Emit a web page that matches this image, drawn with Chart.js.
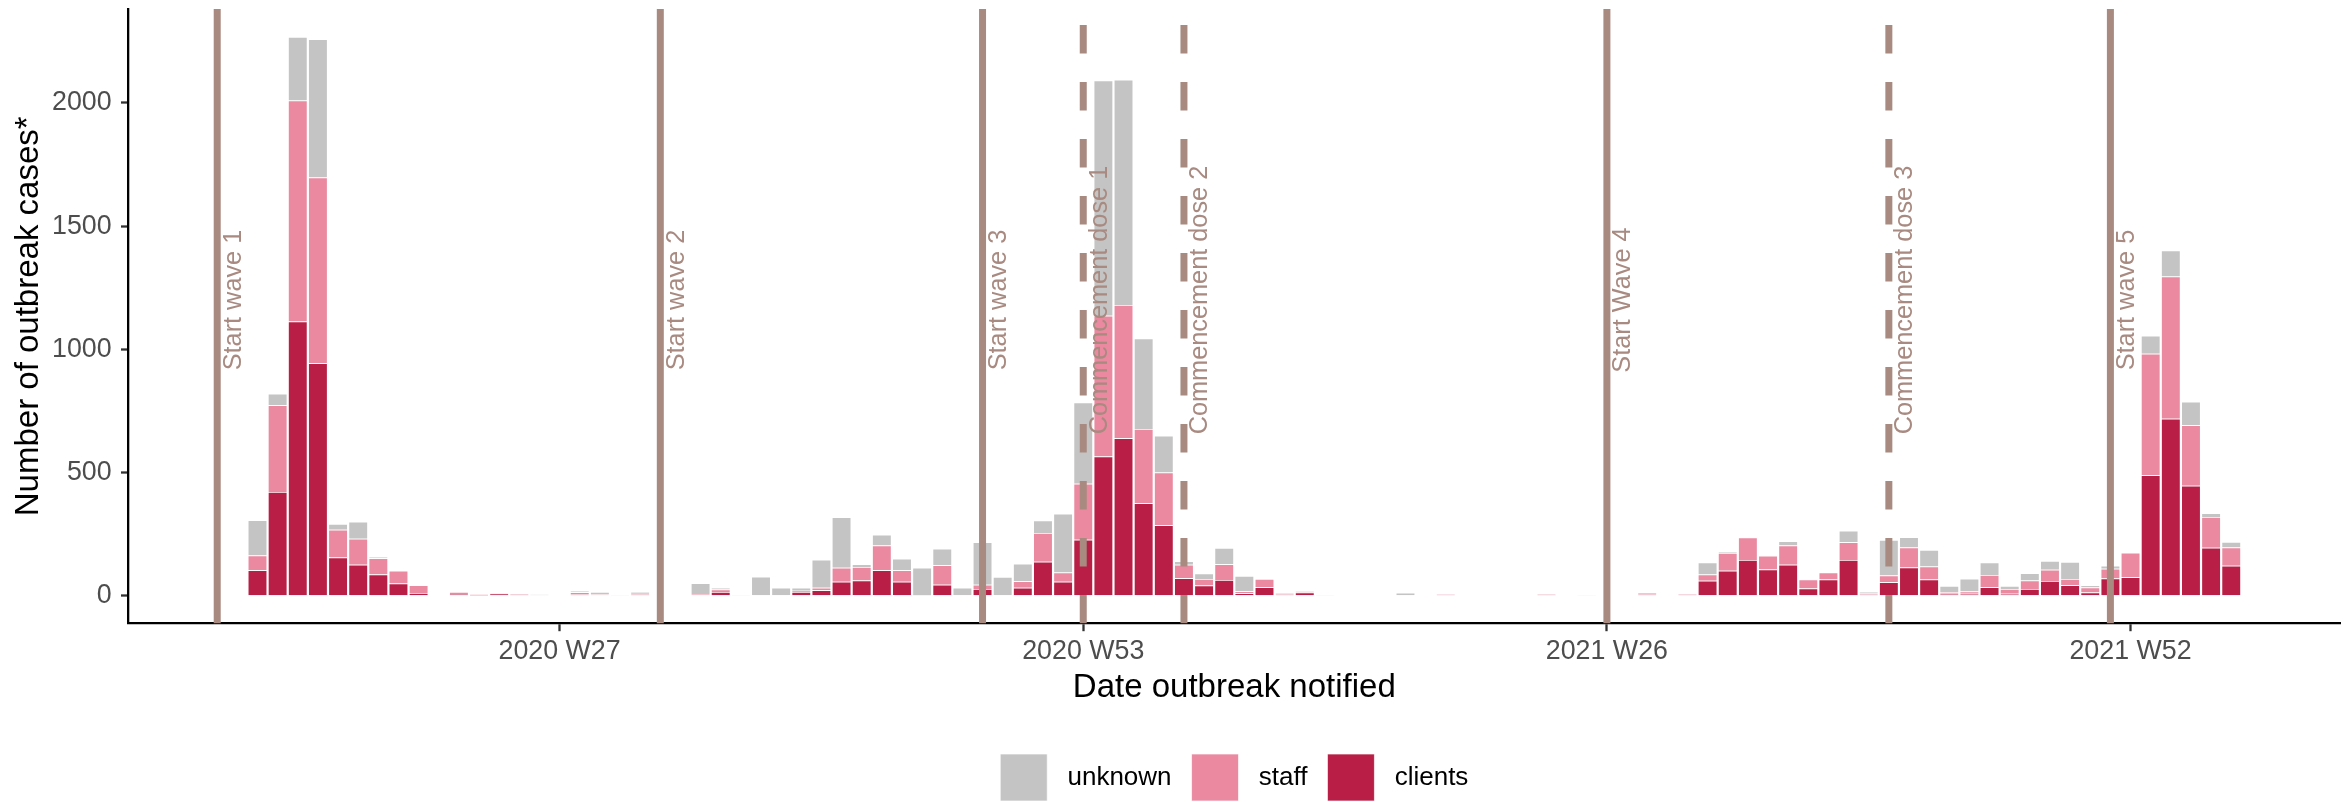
<!DOCTYPE html>
<html>
<head>
<meta charset="utf-8">
<title>Outbreak cases by week notified</title>
<script src="https://cdn.jsdelivr.net/npm/chart.js@4"></script>
<style>
  html, body { margin: 0; padding: 0; background: #ffffff; overflow: hidden; }
  #wrap { width: 2351px; height: 802px; }
</style>
</head>
<body>
<div id="wrap"><canvas id="chart" width="2351" height="802"></canvas></div>
<script>
// Weekly outbreak cases, first week shown is 2020 W12
const firstWeek = '2020 W12';

const clients = [
  103, 421, 1113, 943, 155, 125, 86, 49, 11, 0,
  7, 1, 9, 6, 0, 0, 6, 0, 0, 6,
  0, 0, 0, 15, 0, 0, 0, 15, 22, 56,
  62, 103, 56, 3, 44, 0, 27, 0, 32, 138,
  56, 227, 565, 639, 375, 286, 71, 41, 64, 10,
  34, 6, 13, 2, 0, 0, 0, 0, 0, 5,
  0, 0, 0, 0, 5, 0, 0, 0, 0, 5,
  0, 5, 61, 101, 145, 106, 125, 29, 66, 145,
  5, 54, 114, 66, 8, 8, 34, 8, 27, 60,
  42, 13, 70, 75, 489, 718, 446, 194, 121
];
const staff = [
  60, 352, 897, 754, 113, 106, 66, 52, 31, 0,
  8, 5, 2, 1, 4, 0, 8, 5, 3, 5,
  0, 0, 7, 10, 3, 0, 0, 5, 10, 57,
  54, 101, 47, 0, 79, 0, 17, 0, 27, 116,
  38, 227, 571, 541, 302, 214, 54, 27, 64, 8,
  34, 2, 5, 2, 0, 0, 0, 0, 0, 0,
  0, 0, 0, 0, 1, 0, 3, 0, 0, 7,
  0, 2, 25, 72, 91, 56, 79, 37, 28, 72,
  5, 28, 81, 52, 7, 9, 50, 19, 35, 45,
  26, 20, 39, 99, 493, 578, 246, 125, 74
];
const unknown = [
  143, 47, 258, 562, 23, 69, 5, 0, 0, 0,
  0, 0, 0, 0, 2, 0, 5, 10, 0, 3,
  0, 0, 43, 7, 0, 77, 32, 12, 114, 205,
  12, 43, 47, 110, 67, 32, 173, 76, 71, 51,
  238, 330, 955, 914, 367, 149, 15, 22, 65, 62,
  0, 3, 0, 0, 0, 0, 0, 12, 0, 0,
  0, 0, 0, 0, 0, 0, 0, 0, 0, 0,
  0, 0, 49, 4, 0, 0, 17, 0, 0, 46,
  5, 144, 42, 67, 24, 52, 51, 12, 29, 36,
  69, 9, 12, 0, 73, 105, 95, 16, 23
];

// Axis tick labels
const xTickWeeks = ['2020 W27', '2020 W53', '2021 W26', '2021 W52'];
const yTicks = [0, 500, 1000, 1500, 2000];

// Reference events drawn as vertical lines
const eventLabels = ['Start wave 1', 'Start wave 2', 'Start wave 3', 'Commencement dose 1',
                     'Commencement dose 2', 'Start Wave 4', 'Commencement dose 3', 'Start wave 5'];
const eventWeeks  = ['2020 W10', '2020 W32', '2020 W48', '2020 W53',
                     '2021 W05', '2021 W26', '2021 W40', '2021 W51'];
const eventDashed = [false, false, false, true, true, false, true, false];

// ISO week bookkeeping: number of ISO weeks in each year
const isoWeeksInYear = { 2019: 52, 2020: 53, 2021: 52, 2022: 52 };
function weekSerial(label) {
  const [yr, wk] = label.split(' W').map(Number);
  let s = wk;
  for (let y = 2019; y < yr; y++) s += isoWeeksInYear[y];
  return s;
}
function weekLabel(serial) {
  let y = 2019, s = serial;
  while (s > isoWeeksInYear[y]) { s -= isoWeeksInYear[y]; y++; }
  return y + ' W' + String(s).padStart(2, '0');
}
const base = weekSerial(firstWeek);
const weeks = clients.map((_, i) => weekLabel(base + i));
const weekPos = label => weekSerial(label) - base;

const series = vals => vals.map((v, i) => ({ x: weekPos(weeks[i]), y: v }));

const FONT = "'Liberation Sans', Arial, Helvetica, sans-serif";
const EVENT_COLOUR = '#A88A80';

const eventLines = {
  id: 'eventLines',
  afterDatasetsDraw(chart) {
    const { ctx, chartArea: a, scales: { x, y } } = chart;
    ctx.save();
    ctx.beginPath();
    ctx.rect(a.left, a.top, a.right - a.left, a.bottom - a.top);
    ctx.clip();
    eventWeeks.forEach((w, i) => {
      const px = x.getPixelForValue(weekPos(w));
      ctx.strokeStyle = EVENT_COLOUR;
      ctx.lineWidth = 7;
      ctx.lineCap = 'butt';
      ctx.setLineDash(eventDashed[i] ? [28.5, 28.5] : []);
      ctx.beginPath();
      ctx.moveTo(px, a.bottom);
      ctx.lineTo(px, a.top);
      ctx.stroke();
      ctx.setLineDash([]);

      ctx.save();
      ctx.translate(px + 23.5, y.getPixelForValue(1200));
      ctx.rotate(-Math.PI / 2);
      ctx.fillStyle = EVENT_COLOUR;
      ctx.font = '25.3px ' + FONT;
      ctx.textAlign = 'center';
      ctx.textBaseline = 'alphabetic';
      ctx.fillText(eventLabels[i], 0, 0);
      ctx.restore();
    });
    ctx.restore();
  }
};

const axisGrid = {
  display: true, drawOnChartArea: false, drawTicks: true, offset: false,
  tickLength: 7.6, tickColor: '#333333', tickWidth: 2.3
};
const axisBorder = { display: true, color: '#000000', width: 2.3 };

new Chart(document.getElementById('chart'), {
  type: 'bar',
  data: {
    datasets: [
      { label: 'clients', data: series(clients), backgroundColor: '#B91F46' },
      { label: 'staff',   data: series(staff),   backgroundColor: '#EA89A0' },
      { label: 'unknown', data: series(unknown), backgroundColor: '#C4C4C4' }
    ]
  },
  options: {
    responsive: false,
    animation: false,
    devicePixelRatio: 1,
    layout: { padding: { top: 9, right: 11, left: 0, bottom: 0 } },
    datasets: {
      bar: {
        barPercentage: 0.99,
        categoryPercentage: 1,
        borderColor: '#ffffff',
        borderWidth: { top: 0.75, left: 1, right: 1, bottom: 0 },
        borderSkipped: false
      }
    },
    scales: {
      x: {
        type: 'linear',
        stacked: true,
        min: -6.4,
        max: 103.4,
        offset: false,
        grid: axisGrid,
        border: axisBorder,
        afterBuildTicks: s => { s.ticks = xTickWeeks.map(w => ({ value: weekPos(w) })); },
        ticks: {
          autoSkip: false, maxRotation: 0, minRotation: 0, padding: 3.9,
          color: '#4D4D4D', font: { family: FONT, size: 26.8 },
          callback: (v, i) => xTickWeeks[i]
        },
        title: {
          display: true, text: 'Date outbreak notified', color: '#000000',
          font: { family: FONT, size: 33 }, padding: { top: 0, bottom: 26 }
        },
        afterFit: s => {
          s.height = 110.4;
          s.paddingLeft = 0; s.paddingRight = 0;
        }
      },
      y: {
        stacked: true,
        min: -113.4,
        max: 2381.4,
        grid: axisGrid,
        border: axisBorder,
        afterBuildTicks: s => { s.ticks = yTicks.map(v => ({ value: v })); },
        ticks: {
          padding: 9.4, color: '#4D4D4D', font: { family: FONT, size: 26.8 },
          callback: v => String(v)
        },
        title: {
          display: true, text: 'Number of outbreak cases*', color: '#000000',
          font: { family: FONT, size: 33 }, padding: { top: 9, bottom: 0 }
        },
        afterFit: s => {
          s.width = 128.6;
          s.paddingTop = 0; s.paddingBottom = 0;
        }
      }
    },
    plugins: {
      legend: {
        position: 'bottom',
        fullSize: false,
        reverse: true,
        maxHeight: 68,
        labels: {
          boxWidth: 47, boxHeight: 47, padding: 20,
          color: '#000000', font: { family: FONT, size: 26 },
          generateLabels(chart) {
            const items = Chart.defaults.plugins.legend.labels.generateLabels(chart);
            items.forEach(it => { it.text = ' ' + it.text; });
            return items;
          }
        }
      },
      tooltip: { enabled: false }
    }
  },
  plugins: [eventLines]
});
</script>
</body>
</html>
